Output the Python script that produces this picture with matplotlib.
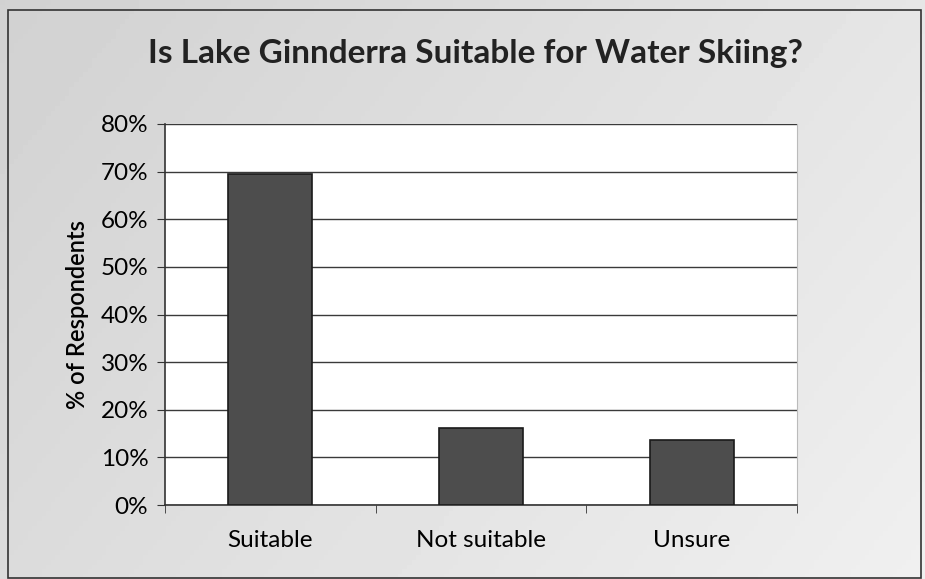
import matplotlib.pyplot as plt
import numpy as np
from matplotlib.patches import Rectangle

categories = ["Suitable", "Not suitable", "Unsure"]
percent = [69.5, 16.2, 13.7]
yticks = [0, 10, 20, 30, 40, 50, 60, 70, 80]

plt.rcParams['font.family'] = ['Lato', 'DejaVu Sans']

fig = plt.figure(figsize=(9.25, 5.79), dpi=100)
W, H = 925, 579

# gray scanned-looking background with soft gradient
bg = fig.add_axes([0, 0, 1, 1], zorder=-10)
gx = np.linspace(0, 1, 200)
gy = np.linspace(0, 1, 120)[:, None]
grad = 0.82 + 0.08 * gx[None, :] + 0.04 * gy
bg.imshow(grad, cmap='gray', vmin=0, vmax=1, aspect='auto', extent=[0, 1, 0, 1])
bg.axis('off')
fig.patches.append(Rectangle((8 / W, 1 - 578 / H), (921 - 8) / W, (578 - 10) / H,
                             transform=fig.transFigure, fill=False,
                             edgecolor='#333333', linewidth=1.2))

x0, x1, ytop, ybot = 165, 797, 124, 505
ax = fig.add_axes([x0 / W, 1 - ybot / H, (x1 - x0) / W, (ybot - ytop) / H])
ax.set_facecolor('white')

pos = np.arange(len(categories))
ax.bar(pos, percent, width=0.4, color='#4d4d4d', edgecolor='#1a1a1a', linewidth=1.2, zorder=3)

ax.set_xlim(-0.5, len(categories) - 0.5)
ax.set_ylim(0, 80)
ax.set_yticks(yticks)
ax.set_yticklabels([f"{v}%" for v in yticks], fontsize=17.5)
ax.yaxis.grid(True, color='#3a3a3a', linewidth=1.0, zorder=0)
ax.set_axisbelow(True)

ax.set_xticks(pos)
ax.set_xticklabels(categories, fontsize=17.5)
ax.tick_params(axis='x', length=0, pad=18)
ax.set_xticks(np.arange(-0.5, len(categories)), minor=True)
ax.tick_params(axis='x', which='minor', length=6, direction='out', color='#333333')
ax.tick_params(axis='y', length=6, direction='out', color='#333333', pad=6)

for s in ['left', 'bottom']:
    ax.spines[s].set_color('#333333')
    ax.spines[s].set_linewidth(1.2)
ax.spines['top'].set_visible(False)
ax.spines['right'].set_color('#bbbbbb')

ax.set_ylabel("% of Respondents", fontsize=17, labelpad=8, fontweight='semibold')

fig.text(475 / W, 1 - 53 / H, "Is Lake Ginnderra Suitable for Water Skiing?",
         ha='center', va='center', fontsize=24, fontweight='bold', color='#222222')

fig.savefig("out.png", dpi=100)
